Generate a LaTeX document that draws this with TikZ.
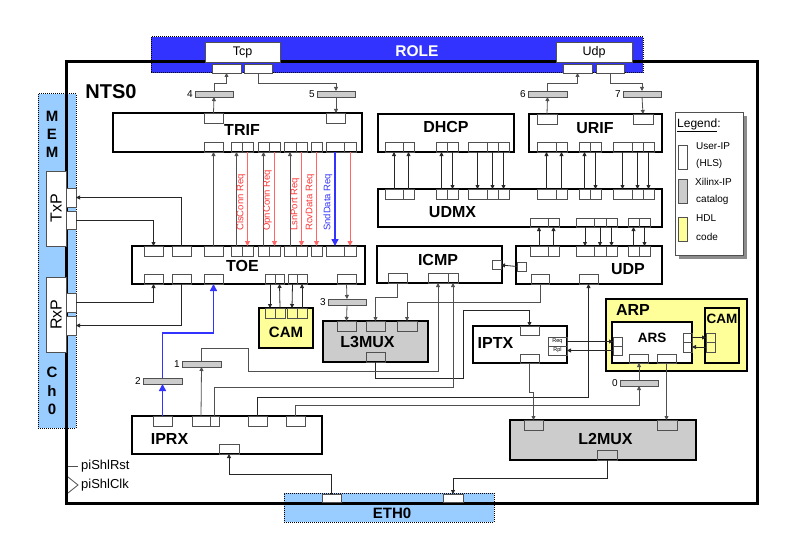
\documentclass[tikz,border=0pt]{standalone}
\usepackage{fontspec}
\setmainfont{Liberation Sans}
\usetikzlibrary{arrows.meta, positioning, calc}
\definecolor{cwire}{HTML}{505050}
\definecolor{crole}{HTML}{3333FF}
\definecolor{cmem}{HTML}{99CCFF}
\definecolor{cxil}{HTML}{CCCCCC}
\definecolor{chdl}{HTML}{FFFF99}
\definecolor{creq}{HTML}{FF6666}
\definecolor{creqtxt}{HTML}{FF3333}
\definecolor{cshadow}{HTML}{8C8C8C}
\tikzset{
  blk/.style={draw=black, line width=1.5pt, inner sep=0pt, outer sep=0pt},
  blklbl/.style={font=\bfseries\fontsize{16}{16}\selectfont, inner sep=0pt},
  panel/.style={draw=black, densely dotted, line width=1pt, inner sep=0pt, outer sep=0pt},
  port/.style={draw=cwire, line width=0.7pt, inner sep=0pt, outer sep=0pt, minimum width=19, minimum height=10},
  portw/.style={port, fill=white},
  bar/.style={draw=cwire, fill=cxil, line width=0.7pt, inner sep=0pt, outer sep=0pt, minimum width=38, minimum height=6},
  num/.style={font=\fontsize{10}{10}\selectfont, inner sep=1pt},
  wire/.style={draw=cwire, line width=0.8pt, -{Triangle[length=4pt, width=4pt]}},
  wirek/.style={wire, draw=black!85},
  reqw/.style={draw=creq, line width=0.9pt, -{Triangle[length=5pt, width=5pt]}},
  bluew/.style={draw=crole, line width=1.5pt, -{Triangle[length=7pt, width=7pt]}},
  reqlbl/.style={rotate=90, anchor=west, inner sep=0pt, text=creqtxt, font=\fontsize{9.5}{10}\selectfont},
  lgtxt/.style={anchor=west, inner sep=0pt, font=\fontsize{10}{10}\selectfont},
}

\begin{document}
\begin{tikzpicture}[x=1pt, y=-1pt]
  \useasboundingbox (0,0) rectangle (794,559);
  % outer panels
  \node[panel, fill=crole, minimum width=492, minimum height=36] (role) at (397,55) {};
  \node[panel, fill=cmem, minimum width=38, minimum height=334] (mem) at (57,261) {};
  \node[panel, fill=cmem, minimum width=210, minimum height=29] (eth) at (389,507.5) {};
  \node[font=\bfseries\fontsize{15.5}{16}\selectfont, text=white, inner sep=0pt] (role-l) at (417,51) {ROLE};
  \node[font=\bfseries\fontsize{15}{18}\selectfont, align=center, inner sep=0pt] (mem-l) at (52,134) {M\\E\\M};
  \node[font=\bfseries\fontsize{15}{18.5}\selectfont, align=center, inner sep=0pt] (ch-l) at (52,391) {C\\h\\0};
  \node[font=\bfseries\fontsize{15}{16}\selectfont, inner sep=0pt] (eth-l) at (392,513) {ETH0};
  % NTS0 frame
  \node[draw=black, line width=3pt, minimum width=691, minimum height=441, inner sep=0pt, outer sep=0pt] (nts) at (411.5,282.5) {};
  \node[font=\bfseries\fontsize{20}{20}\selectfont, inner sep=0pt] (nts-l) at (111,92) {NTS0};
  % role side
  \node[draw=cwire, fill=white, line width=0.8pt, minimum width=75, minimum height=20, inner sep=0pt, font=\fontsize{12.5}{12}\selectfont] (tcp) at (242.5,52) {Tcp};
  \node[draw=cwire, fill=white, line width=0.8pt, minimum width=76, minimum height=20, inner sep=0pt, font=\fontsize{12.5}{12}\selectfont] (udp) at (594,52) {Udp};
  \node[portw, minimum width=29, minimum height=9] (tcpp1) at (226.5,68.5) {};
  \node[portw, minimum width=28, minimum height=9] (tcpp2) at (258,68.5) {};
  \node[portw, minimum width=29, minimum height=9] (udpp1) at (577.5,68.5) {};
  \node[portw, minimum width=28, minimum height=9] (udpp2) at (610,68.5) {};
  % memory side
  \node[draw=cwire, fill=white, line width=0.8pt, rotate=90, minimum width=75, minimum height=20, inner sep=0pt, font=\fontsize{16}{16}\selectfont] (txp) at (56,208.5) {TxP};
  \node[draw=cwire, fill=white, line width=0.8pt, rotate=90, minimum width=75, minimum height=20, inner sep=0pt, font=\fontsize{16}{16}\selectfont] (rxp) at (56,314.5) {RxP};
  \node[portw, minimum width=10, minimum height=19] (txpp1) at (71,197.5) {};
  \node[portw, minimum width=10, minimum height=18] (txpp2) at (71,220) {};
  \node[portw, minimum width=10, minimum height=19] (rxpp1) at (71,302.5) {};
  \node[portw, minimum width=10, minimum height=19] (rxpp2) at (71,325.5) {};
  \node[portw, minimum height=8] (ethp1) at (331.5,498) {};
  \node[portw, minimum width=20, minimum height=8] (ethp2) at (453,498) {};

  % blocks
  \node[blk, minimum width=249, minimum height=39] (trif) at (237.5,132.5) {};
  \node[blk, minimum width=233, minimum height=38] (toe) at (248.5,265) {};
  \node[blk, minimum width=136, minimum height=38] (dhcp) at (446,133) {};
  \node[blk, minimum width=133, minimum height=38] (urif) at (595.5,133) {};
  \node[blk, minimum width=284, minimum height=38] (udmx) at (520,208) {};
  \node[blk, minimum width=125, minimum height=37] (icmp) at (439.5,264.5) {};
  \node[blk, minimum width=146, minimum height=38] (udpb) at (589,265) {};
  \node[blk, fill=chdl, minimum width=54, minimum height=40] (cam) at (286,328) {};
  \node[blk, fill=cxil, minimum width=105, minimum height=41] (l3mux) at (375.5,341.5) {};
  \node[blk, minimum width=94, minimum height=37] (iptx) at (520,344.5) {};
  \node[blk, fill=chdl, minimum width=141, minimum height=72] (arp) at (676.5,335) {};
  \node[blk, fill=white, minimum width=80, minimum height=41] (ars) at (652,342.5) {};
  \node[blk, fill=chdl, minimum width=34, minimum height=55] (acam) at (722,335.5) {};
  \node[blk, minimum width=190, minimum height=38] (iprx) at (227,435) {};
  \node[blk, fill=cxil, minimum width=186, minimum height=40] (l2mux) at (603,440) {};

  \node[blklbl] (trif-l) at (242,130) {TRIF};
  \node[blklbl] (toe-l) at (242.5,266) {TOE};
  \node[blklbl] (dhcp-l) at (446,127) {DHCP};
  \node[blklbl] (urif-l) at (595,128) {URIF};
  \node[blklbl] (udmx-l) at (452.5,212) {UDMX};
  \node[blklbl] (icmp-l) at (438,260) {ICMP};
  \node[blklbl] (udp-l) at (628,269) {UDP};
  \node[blklbl, font=\bfseries\fontsize{15}{15}\selectfont] (cam-l) at (286,332) {CAM};
  \node[blklbl] (l3mux-l) at (367.5,342) {L3MUX};
  \node[blklbl] (iptx-l) at (495.5,343) {IPTX};
  \node[blklbl] (arp-l) at (633,310) {ARP};
  \node[blklbl, font=\bfseries\fontsize{13.5}{14}\selectfont] (ars-l) at (652,338) {ARS};
  \node[blklbl, font=\bfseries\fontsize{13.5}{14}\selectfont] (acam-l) at (722,319) {CAM};
  \node[blklbl] (iprx-l) at (169.5,439) {IPRX};
  \node[blklbl] (l2mux-l) at (605.5,439) {L2MUX};

  % ports
  \node[port] (trift1) at (213.5,118) {};
  \node[port] (trift2) at (336,118) {};
  \node[port, minimum width=20] (urt1) at (547,119) {};
  \node[port, minimum width=20] (urt2) at (643,119) {};
  \foreach \n/\a/\b in {1/204/223, 2/231/242, 3/242/253, 4/258/269, 5/269/280, 6/284/296, 7/296/307, 8/311/322, 9/326/344, 10/344/356}
    \node[port, minimum width=\b-\a] (trifb\n) at ({(\a+\b)/2},147) {};
  \foreach \n/\a/\b in {1/144/163, 2/172/191, 3/204/223, 4/231/242, 5/242/253, 6/258/269, 7/269/280, 8/284/296, 9/296/307, 10/311/322, 11/326/344, 12/344/356}
    \node[port, minimum width=\b-\a] (toet\n) at ({(\a+\b)/2},251) {};
  \foreach \n/\a/\b in {1/144/163, 2/172/191, 3/204/223, 4/265/275, 5/275/284, 6/288/297, 7/297/307, 8/337/356}
    \node[port, minimum width=\b-\a] (toeb\n) at ({(\a+\b)/2},279) {};
  \foreach \n/\a/\b in {1/265/275, 2/275/285, 3/287/297, 4/297/307}
    \node[port, minimum width=\b-\a] (camp\n) at ({(\a+\b)/2},313) {};
  \foreach \n/\a/\b in {1/385/403, 2/403/414, 3/436/447, 4/447/458, 5/468/487, 6/487/498, 7/498/509}
    \node[port, minimum width=\b-\a] (dhb\n) at ({(\a+\b)/2},147) {};
  \foreach \n/\a/\b in {1/537/556, 2/556/567, 3/579/590, 4/590/601, 5/613/632, 6/632/643, 7/643/654}
    \node[port, minimum width=\b-\a] (urb\n) at ({(\a+\b)/2},147) {};
  \foreach \n/\a/\b in {1/385/403, 2/403/414, 3/436/447, 4/447/458, 5/468/487, 6/487/498, 7/498/509, 8/537/556, 9/556/567, 10/579/590, 11/590/601, 12/613/632, 13/632/643, 14/643/654}
    \node[port, minimum width=\b-\a] (umt\n) at ({(\a+\b)/2},194) {};
  \foreach \n/\a/\b in {1/530/548, 2/548/559, 3/576/594, 4/594/606, 5/606/617, 6/628/639, 7/639/650}
    \node[port, minimum width=\b-\a, minimum height=9] (umb\n) at ({(\a+\b)/2},222.5) {};
  \foreach \n/\a/\b in {1/530/548, 2/548/559, 3/576/594, 4/594/606, 5/606/617, 6/628/639, 7/639/650}
    \node[port, minimum width=\b-\a] (udt\n) at ({(\a+\b)/2},251) {};
  \foreach \n/\a/\b in {1/531/549, 2/579/598}
    \node[port, minimum width=\b-\a] (udb\n) at ({(\a+\b)/2},279) {};
  \node[port, minimum width=9, minimum height=9] (udl) at (521.5,266.5) {};
  \foreach \n/\a/\b in {1/388/407, 2/428/448, 3/448/458}
    \node[port, minimum width=\b-\a] (icb\n) at ({(\a+\b)/2},278) {};
  \node[port, minimum width=9, minimum height=9] (icr) at (496.5,265) {};
  \foreach \n/\a/\b in {1/337/356, 2/366/385, 3/397/417}
    \node[port, minimum width=\b-\a] (l3t\n) at ({(\a+\b)/2},326) {};
  \node[port] (l3b) at (375.5,357) {};
  \node[port, minimum height=9] (iptt) at (529.5,330.5) {};
  \node[port, minimum height=9] (iptb) at (529.5,358.5) {};
  \node[port, minimum height=9, font=\fontsize{5.5}{6}\selectfont] (iptreq) at (557.5,341.5) {Req};
  \node[port, minimum height=9, font=\fontsize{5.5}{6}\selectfont] (iptrpl) at (557.5,350.5) {Rpl};
  \node[port, minimum width=9, minimum height=9] (arsl1) at (617.5,341.5) {};
  \node[port, minimum width=9, minimum height=9] (arsl2) at (617.5,350.5) {};
  \node[port, minimum width=9, minimum height=9] (arsr1) at (687.5,337.5) {};
  \node[port, minimum width=9, minimum height=10] (arsr2) at (687.5,347) {};
  \node[port, minimum height=9] (arsb1) at (638.5,358.5) {};
  \node[port, minimum height=9] (arsb2) at (666.5,358.5) {};
  \node[port, minimum width=9, minimum height=9] (acaml1) at (710.5,337.5) {};
  \node[port, minimum width=9, minimum height=10] (acaml2) at (710.5,347) {};
  \foreach \n/\a/\b in {1/153/172, 2/192/210, 3/210/219, 4/248/267, 5/286/305}
    \node[port, minimum width=\b-\a] (iprt\n) at ({(\a+\b)/2},421) {};
  \node[port, minimum width=20] (iprb) at (229,449) {};
  \node[port] (l2t1) at (533.5,425) {};
  \node[port, minimum width=20] (l2t2) at (667,425) {};
  \node[port, minimum width=20] (l2b) at (607,455) {};

  % xilinx switches
  \node[bar] (bar4) at (214,94) {};
  \node[bar] (bar5) at (336,94) {};
  \node[bar, minimum width=39] (bar6) at (547.5,94) {};
  \node[bar] (bar7) at (642,94) {};
  \node[bar] (bar3) at (347,302) {};
  \node[bar, minimum width=39] (bar1) at (201.5,364) {};
  \node[bar, minimum width=39] (bar2) at (162.5,381) {};
  \node[bar] (bar0) at (639,383) {};
  \foreach \k in {0,...,7} \node[num, left=1pt of bar\k] (n\k) {\k};

  % role connections
  \draw[wire] (trift1.north) -- (bar4.south);
  \draw[wire] (bar4.north) -- ++(0,-8) -| (tcpp1.south);
  \draw[wire] (tcpp2.south) -- ++(0,10) -| (bar5.north);
  \draw[wire] (bar5.south) -- (trift2.north);
  \draw[wire] (urt1.north) -- (bar6.south);
  \draw[wire] (bar6.north) -- ++(0,-8) -| (udpp1.south);
  \draw[wire] (udpp2.south) -- ++(0,10) -| (bar7.north);
  \draw[wire] (bar7.south) -- (urt2.north);

  % trif <-> toe
  \foreach \a/\b in {toet3/trifb1, toet4/trifb2, toet6/trifb4, toet8/trifb6}
    \draw[wire] (\a.north) -- (\b.south);
  \foreach \a/\b in {trifb3/toet5, trifb5/toet7, trifb7/toet9, trifb8/toet10, trifb10/toet12}
    \draw[reqw] (\a.south) -- (\b.north);
  \draw[bluew] (trifb9.south) -- (toet11.north);
  \node[reqlbl] (cls) at (241,231) {ClsConn Req};
  \node[reqlbl] (opn) at (267.5,231) {OpnConn Req};
  \node[reqlbl] (lsn) at (295,231) {LsnPort Req};
  \node[reqlbl] (rcv) at (310,231) {RcvData Req};
  \node[reqlbl, text=crole] (snd) at (328,231) {SndData Req};

  % dhcp, urif, udmx, udp
  \foreach \a/\b in {umt1/dhb1, umt2/dhb2, umt3/dhb3, umt8/urb1, umt9/urb2, umt10/urb3}
    \draw[wirek] (\a.north) -- (\b.south);
  \foreach \a/\b in {dhb4/umt4, dhb5/umt5, dhb6/umt6, dhb7/umt7, urb4/umt11, urb5/umt12, urb6/umt13, urb7/umt14}
    \draw[wirek] (\a.south) -- (\b.north);
  \foreach \a/\b in {udt1/umb1, udt2/umb2, udt6/umb6}
    \draw[wirek] (\a.north) -- (\b.south);
  \foreach \a/\b in {umb3/udt3, umb4/udt4, umb5/udt5, umb7/udt7}
    \draw[wirek] (\a.south) -- (\b.north);
  \draw[wirek] (udl.west) -- (icr.east);

  % memory
  \draw[wirek] (toet2.north) |- (txpp1.east);
  \draw[wirek] (txpp2.east) -| (toet1.north);
  \draw[wirek] (rxpp1.east) -| (toeb1.south);
  \draw[wirek] (toeb2.south) |- (rxpp2.east);

  % cam, l3mux
  \draw[wirek] (toeb4.south) -- (camp1.north);
  \draw[wirek] (camp2.north) -- (toeb5.south);
  \draw[wirek] (toeb6.south) -- (camp3.north);
  \draw[wirek] (camp4.north) -- (toeb7.south);
  \draw[wire] (toeb8.south) -- (bar3.north);
  \draw[wire] (bar3.south) -- (l3t1.north);
  \draw[wire] (icb1.south) -- ++(0,14) -| (l3t2.north);
  \draw[wire] (udb1.south) -- ++(0,18) -| (l3t3.north);
  \draw[wirek] (l3b.south) -- ++(0,16) -| ++(88,-68) -| (iptt.north);

  % iprx
  \draw[bluew] (iprt1.north) -- (bar2.south);
  \draw[bluew] (bar2.north) -- ++(0,-45) -| (toeb3.south);
  \draw[wire] (iprt2.north) -- (bar1.south);
  \draw[wire] (bar1.north) -- ++(0,-13) -| ++(47,23) -| (icb2.south);
  \draw[wire] (iprt3.north) -- ++(0,-29) -| (icb3.south);
  \draw[wirek] (iprt4.north) -- ++(0,-19) -| (udb2.south);
  \draw[wire] (iprt5.north) -- ++(0,-11) -| (bar0.south);
  \draw[wire] (bar0.north) -- (bar0.north |- arsb1.south);
  \draw[wirek] (ethp1.north) -- ++(0,-20) -| (iprb.south);

  % iptx, arp, l2mux
  \draw[wirek] (iptreq.east) -- (arsl1.west);
  \draw[wirek] (arsl2.west) -- (iptrpl.east);
  \draw[wirek] (arsr1.east) -- (acaml1.west);
  \draw[wirek] (acaml2.west) -- (arsr2.east);
  \draw[wire] (iptb.south) -- ++(0,29) -| (l2t1.north);
  \draw[wire] (arsb2.south) -- (arsb2.south |- l2t2.north);
  \draw[wirek] (l2b.south) -- ++(0,18) -| (ethp2.north);

  % legend
  \fill[cshadow] (679,116) rectangle (747,259);
  \node[draw=cwire, fill=white, line width=0.7pt, minimum width=68, minimum height=143, inner sep=0pt] (legend) at (709,183.5) {};
  \node[lgtxt, font=\fontsize{12}{12}\selectfont] (lg-t) at (677,125) {\underline{Legend}:};
  \node[draw=cwire, fill=white, line width=0.7pt, minimum width=9, minimum height=24, inner sep=0pt] (lg-w) at (682.5,157) {};
  \node[draw=cwire, fill=cxil, line width=0.7pt, minimum width=9, minimum height=24, inner sep=0pt] (lg-x) at (682.5,191) {};
  \node[draw=cwire, fill=chdl, line width=0.7pt, minimum width=9, minimum height=24, inner sep=0pt] (lg-y) at (682.5,229) {};
  \node[lgtxt] (lg-1) at (696,146) {User-IP};
  \node[lgtxt] (lg-2) at (696,164) {(HLS)};
  \node[lgtxt] (lg-3) at (695,182) {Xilinx-IP};
  \node[lgtxt] (lg-4) at (696,200) {catalog};
  \node[lgtxt] (lg-5) at (696,218) {HDL};
  \node[lgtxt] (lg-6) at (696,237) {code};

  % reset and clock
  \draw[cwire, line width=0.8pt] (68,466) -- (78,466);
  \draw[cwire, line width=0.8pt] (68,477) -- (78,485) -- (68,493);
  \node[anchor=west, inner sep=0pt, font=\fontsize{13}{13}\selectfont] (rst) at (81,466) {piShlRst};
  \node[anchor=west, inner sep=0pt, font=\fontsize{13}{13}\selectfont] (clk) at (81,485) {piShlClk};
\end{tikzpicture}
\end{document}
